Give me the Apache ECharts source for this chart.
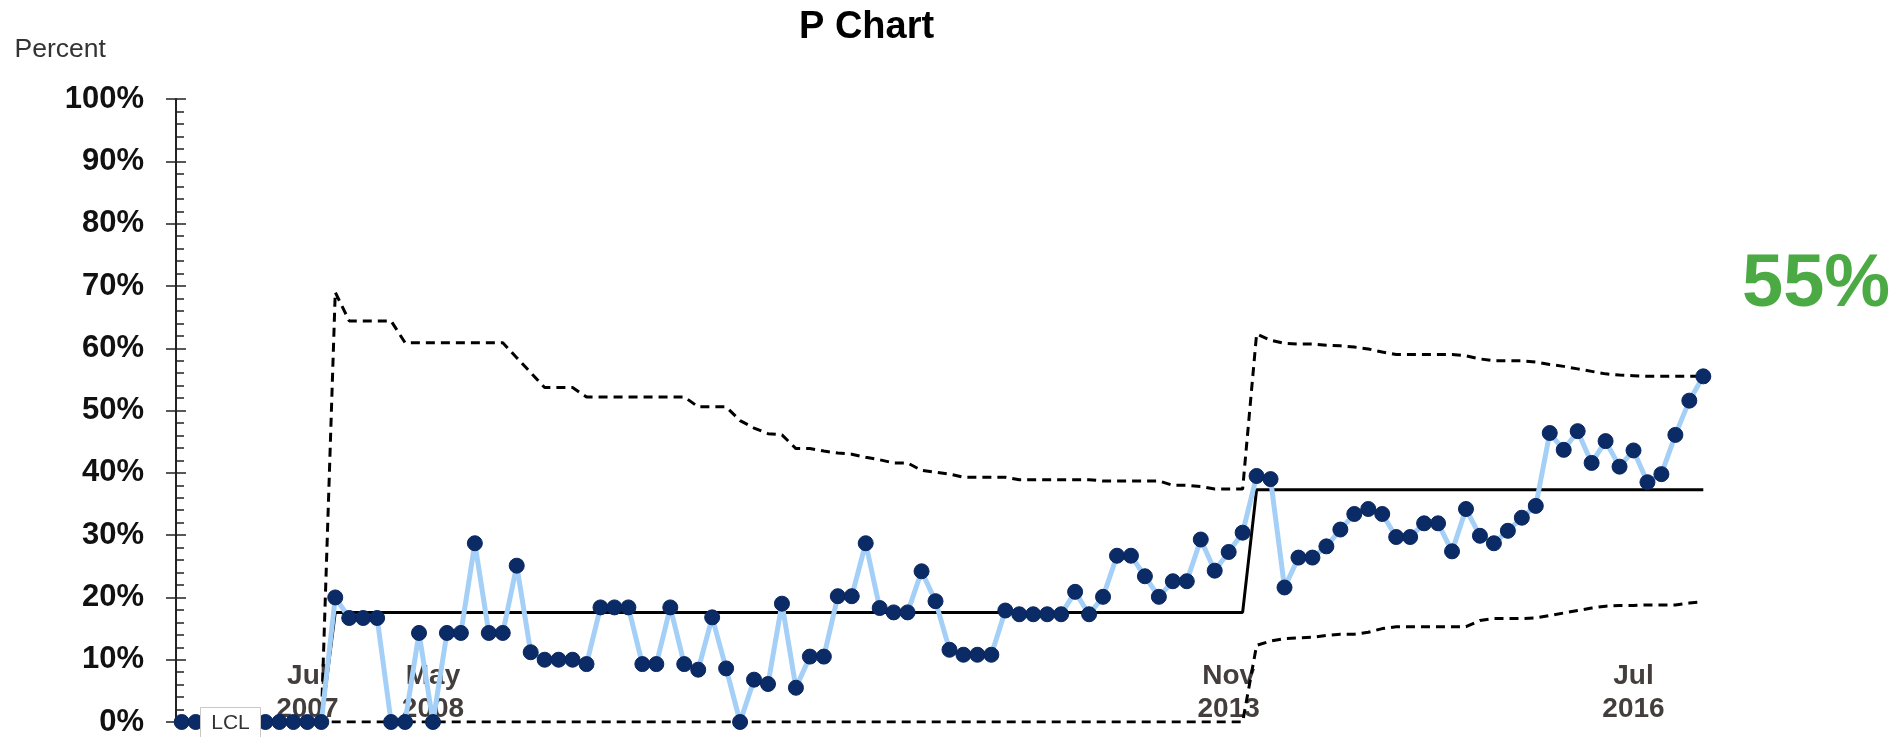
<!DOCTYPE html>
<html>
<head>
<meta charset="utf-8">
<script src="https://cdn.jsdelivr.net/npm/echarts@6/dist/echarts.min.js"></script>
<style>
  html, body { margin: 0; padding: 0; background: #ffffff; }
  #chart { width: 1900px; height: 737px; }
</style>
</head>
<body>
<div id="chart"></div>
<script>
// ---------- DATA ----------
const pointCount = 110;
const categories = Array.from({ length: pointCount }, (_, i) => String(i + 1));

// Sparse x tick labels (category index -> label)
const xTickIndex = [9, 18, 75, 104];
const xTickLabels = ['Jul\n2007', 'May\n2008', 'Nov\n2013', 'Jul\n2016'];

// y tick labels are 0..100 step 10 (percent)
const yTicks = [0, 10, 20, 30, 40, 50, 60, 70, 80, 90, 100];

// Percent per period
const percentValues = [
  0, 0, 0, 0, 0, 0, 0, 0, 0, 0, 0,
  20.0, 16.7, 16.7, 16.7, 0, 0, 14.3, 0, 14.3, 14.3,
  28.7, 14.3, 14.3, 25.1, 11.2, 10.0, 10.0, 10.0, 9.3, 18.4,
  18.4, 18.4, 9.3, 9.3, 18.4, 9.3, 8.4, 16.8, 8.6, 0,
  6.8, 6.1, 19.0, 5.5, 10.5, 10.5, 20.2, 20.2, 28.7, 18.3,
  17.6, 17.6, 24.2, 19.4, 11.6, 10.8, 10.8, 10.8, 17.9, 17.3,
  17.3, 17.3, 17.3, 20.9, 17.3, 20.1, 26.7, 26.7, 23.4, 20.1,
  22.6, 22.6, 29.3, 24.3, 27.3, 30.4, 39.5, 39.0, 21.6, 26.4,
  26.4, 28.2, 30.9, 33.4, 34.2, 33.4, 29.7, 29.7, 31.9, 31.9,
  27.4, 34.2, 29.9, 28.7, 30.7, 32.8, 34.7, 46.4, 43.7, 46.7,
  41.6, 45.1, 41.0, 43.6, 38.5, 39.8, 46.1, 51.6, 55.5
];

// Center line
const centerLine = [
  0, 0, 0, 0, 0, 0, 0, 0, 0, 0, 0,
  17.6, 17.6, 17.6, 17.6, 17.6, 17.6, 17.6, 17.6, 17.6, 17.6,
  17.6, 17.6, 17.6, 17.6, 17.6, 17.6, 17.6, 17.6, 17.6, 17.6,
  17.6, 17.6, 17.6, 17.6, 17.6, 17.6, 17.6, 17.6, 17.6, 17.6,
  17.6, 17.6, 17.6, 17.6, 17.6, 17.6, 17.6, 17.6, 17.6, 17.6,
  17.6, 17.6, 17.6, 17.6, 17.6, 17.6, 17.6, 17.6, 17.6, 17.6,
  17.6, 17.6, 17.6, 17.6, 17.6, 17.6, 17.6, 17.6, 17.6, 17.6,
  17.6, 17.6, 17.6, 17.6, 17.6, 17.6, 37.3, 37.3, 37.3, 37.3,
  37.3, 37.3, 37.3, 37.3, 37.3, 37.3, 37.3, 37.3, 37.3, 37.3,
  37.3, 37.3, 37.3, 37.3, 37.3, 37.3, 37.3, 37.3, 37.3, 37.3,
  37.3, 37.3, 37.3, 37.3, 37.3, 37.3, 37.3, 37.3, 37.3
];

// Upper control limit
const upperLimit = [
  0, 0, 0, 0, 0, 0, 0, 0, 0, 0, 0,
  69.0, 64.4, 64.4, 64.4, 64.4, 60.9, 60.9, 60.9, 60.9, 60.9,
  60.9, 60.9, 60.9, 58.5, 56.1, 53.7, 53.7, 53.7, 52.2, 52.2,
  52.2, 52.2, 52.2, 52.2, 52.2, 52.2, 50.6, 50.6, 50.6, 48.4,
  47.2, 46.3, 46.1, 43.9, 43.9, 43.5, 43.2, 43.0, 42.5, 42.1,
  41.6, 41.6, 40.4, 40.1, 39.8, 39.3, 39.3, 39.3, 39.3, 38.9,
  38.9, 38.9, 38.9, 38.9, 38.9, 38.7, 38.7, 38.7, 38.7, 38.7,
  38.0, 38.0, 37.8, 37.4, 37.4, 37.4, 62.3, 61.3, 60.8, 60.7,
  60.7, 60.5, 60.4, 60.2, 59.9, 59.4, 59.0, 59.0, 59.0, 59.0,
  59.0, 58.8, 58.3, 58.0, 58.0, 58.0, 57.8, 57.4, 57.1, 56.7,
  56.3, 55.9, 55.7, 55.6, 55.5, 55.5, 55.5, 55.5, 55.5
];

// Lower control limit
const lowerLimit = [
  0, 0, 0, 0, 0, 0, 0, 0, 0, 0, 0,
  0, 0, 0, 0, 0, 0, 0, 0, 0, 0,
  0, 0, 0, 0, 0, 0, 0, 0, 0, 0,
  0, 0, 0, 0, 0, 0, 0, 0, 0, 0,
  0, 0, 0, 0, 0, 0, 0, 0, 0, 0,
  0, 0, 0, 0, 0, 0, 0, 0, 0, 0,
  0, 0, 0, 0, 0, 0, 0, 0, 0, 0,
  0, 0, 0, 0, 0, 0, 12.3, 13.0, 13.4, 13.5,
  13.6, 13.9, 14.1, 14.1, 14.4, 15.0, 15.3, 15.3, 15.3, 15.3,
  15.3, 15.3, 16.3, 16.6, 16.6, 16.6, 16.7, 17.1, 17.5, 17.9,
  18.3, 18.6, 18.7, 18.7, 18.8, 18.8, 18.8, 19.1, 19.3
];

// ---------- CHART ----------
const FONT = "'Liberation Sans', Arial, sans-serif";
const latestValue = percentValues[percentValues.length - 1];

const chart = echarts.init(document.getElementById('chart'), null, { renderer: 'canvas' });

const yAxisBase = {
  type: 'value',
  position: 'left',
  offset: 5.7,
  min: yTicks[0],
  max: yTicks[yTicks.length - 1],
  interval: yTicks[1] - yTicks[0],
  splitLine: { show: false },
  axisLine: { show: true, lineStyle: { color: '#222', width: 2 } }
};

chart.setOption({
  animation: false,
  backgroundColor: '#ffffff',
  title: [
    {
      text: 'P Chart', left: 794, top: 4,
      textStyle: { fontFamily: FONT, fontSize: 38, fontWeight: 'bold', color: '#000' }
    },
    {
      text: 'Percent', left: 9.5, top: 31,
      textStyle: { fontFamily: FONT, fontSize: 26.5, fontWeight: 'normal', color: '#333' }
    },
    {
      text: Math.floor(latestValue) + '%', left: 1737, top: 244,
      textStyle: { fontFamily: FONT, fontSize: 74, fontWeight: 'bold', color: '#4caa45' }
    }
  ],
  grid: {
    left: 181.7, right: 196.7, top: 99.2, bottom: 15,
    outerBoundsMode: 'none', containLabel: false
  },
  xAxis: {
    type: 'category',
    data: categories,
    boundaryGap: false,
    axisLine: { show: false },
    axisTick: { show: false },
    splitLine: { show: false },
    axisLabel: {
      interval: 0,
      margin: -62,
      fontFamily: FONT, fontSize: 28, fontWeight: 'bold', color: '#433e3b', lineHeight: 33,
      formatter: function (val, idx) {
        const k = xTickIndex.indexOf(idx);
        return k >= 0 ? xTickLabels[k] : '';
      }
    }
  },
  yAxis: [
    Object.assign({}, yAxisBase, {
      axisTick: { show: true, inside: false, length: 10, lineStyle: { color: '#222', width: 1.5 } },
      axisLabel: {
        margin: 32,
        fontFamily: FONT, fontSize: 31, fontWeight: 'bold', color: '#111',
        formatter: '{value}%'
      }
    }),
    Object.assign({}, yAxisBase, {
      axisTick: { show: true, inside: true, length: 10, lineStyle: { color: '#222', width: 1.5 } },
      minorTick: { show: true, splitNumber: 5, length: 8, lineStyle: { color: '#222', width: 1.5 } },
      axisLabel: { show: false }
    })
  ],
  series: [
    {
      name: 'UCL', type: 'line', data: upperLimit, symbol: 'none', z: 2,
      lineStyle: { color: '#000', width: 3, type: [9, 6] }
    },
    {
      name: 'LCL', type: 'line', data: lowerLimit, symbol: 'none', z: 2,
      lineStyle: { color: '#000', width: 3, type: [9, 6] }
    },
    {
      name: 'CL', type: 'line', data: centerLine, symbol: 'none', z: 3,
      lineStyle: { color: '#000', width: 3 }
    },
    {
      name: 'Percent', type: 'line', data: percentValues, z: 5,
      symbol: 'circle', symbolSize: 15,
      lineStyle: { color: '#a4d0f8', width: 5 },
      itemStyle: { color: '#0a2b66', borderColor: '#0a2660', borderWidth: 1 }
    }
  ],
  graphic: [
    {
      type: 'group', left: 200, top: 707, z: 100, zlevel: 1,
      children: [
        { type: 'rect', z: 100, zlevel: 1, shape: { x: 0, y: 0, width: 60, height: 40 },
          style: { fill: '#fff', stroke: '#c8c8c8', lineWidth: 1 } },
        { type: 'text', z: 101, zlevel: 1, x: 30, y: 16, style: {
            text: 'LCL', fontFamily: FONT, fontSize: 21, fill: '#333',
            align: 'center', verticalAlign: 'middle' } }
      ]
    }
  ]
});
</script>
</body>
</html>
